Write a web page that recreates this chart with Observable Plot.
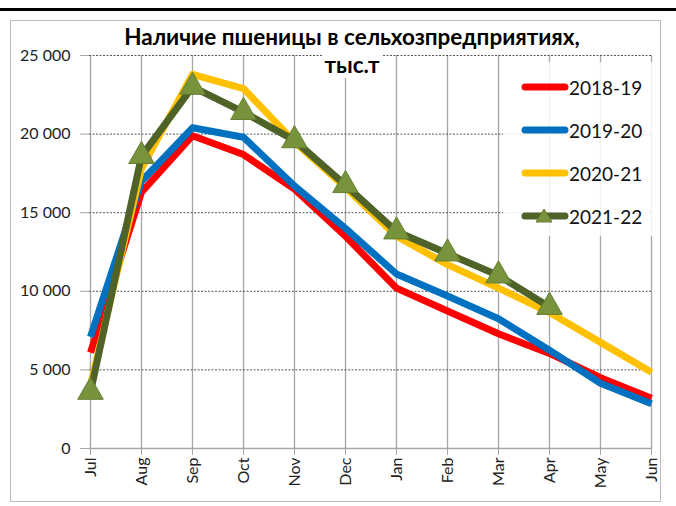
<!DOCTYPE html>
<html>
<head>
<meta charset="utf-8">
<script src="https://cdn.jsdelivr.net/npm/d3@7"></script>
<script src="https://cdn.jsdelivr.net/npm/@observablehq/plot@0.6"></script>
<style>
  html, body { margin: 0; padding: 0; background: #fff; }
  #wrap { position: relative; width: 676px; height: 506px; overflow: hidden; font-family: Lato, "Open Sans", sans-serif; }
  #topline { position: absolute; left: 0; top: 8px; width: 676px; height: 3px; background: #000; }
  #box { position: absolute; left: 10px; top: 20px; width: 651px; height: 482px; border: 1.5px solid #bdbdbd; box-sizing: border-box; }
  #chart { position: absolute; left: 0; top: 0; }
  .title { position: absolute; left: 0; width: 704px; text-align: center; font-weight: bold; font-size: 22.5px; color: #000; white-space: nowrap; }
  #legend { position: absolute; left: 503px; top: 62px; width: 152px; height: 174px; background: rgba(255,255,255,0.85); }
  .li { position: absolute; left: 18px; height: 22px; display: flex; align-items: center; font-size: 19px; color: #111; }
  .li svg { margin-right: 0px; }
</style>
</head>
<body>
<div id="wrap">
  <div id="topline"></div>
  <div id="box"></div>
  <div id="chart"></div>
  <div id="legend"></div>
  <div class="title" style="top:23px;">Наличие пшеницы в сельхозпредприятиях,</div>
  <div class="title" style="top:51px;"><span style="background:#fff;padding:0 2px;">тыс.т</span></div>
</div>
<script>
const months = ["Jul","Aug","Sep","Oct","Nov","Dec","Jan","Feb","Mar","Apr","May","Jun"];
const seriesNames = ["2018-19","2019-20","2020-21","2021-22"];
const seriesColors = ["#ff0000","#0070c0","#ffc000","#4f6228"];
const v2018 = [6100, 16300, 19900, 18700, 16500, 13500, 10200, 8750, 7300, 6050, 4500, 3200];
const v2019 = [7100, 17000, 20400, 19800, 16700, 14000, 11100, 9700, 8250, 6250, 4150, 2850];
const v2020 = [4000, 17800, 23800, 22900, 19500, 16600, 13500, 11700, 10200, 8650, 6750, 4850];
const v2021 = [3600, 18600, 23000, 21400, 19600, 16750, 13800, 12400, 11000, 9000];
const yTicks = [0, 5000, 10000, 15000, 20000, 25000];

const allValues = [v2018, v2019, v2020, v2021];
const rows = [];
allValues.forEach((vals, si) => vals.forEach((v, i) => rows.push({month: months[i], value: v, series: seriesNames[si]})));

const fmt = d => d3.format(",")(d).replace(/,/g, " ");

const chart = Plot.plot({
  width: 676,
  height: 506,
  marginLeft: 89,
  marginRight: 25,
  marginTop: 55,
  marginBottom: 58,
  style: { fontFamily: "Lato, 'Open Sans', sans-serif", background: "transparent" },
  x: { type: "point", domain: months, padding: 0, label: null },
  y: { domain: [0, 25000], label: null },
  color: { domain: seriesNames, range: seriesColors },
  marks: [
    Plot.gridX(months, { stroke: "#a6a6a6", strokeOpacity: 1, strokeWidth: 1.3 }),
    Plot.gridY(yTicks.filter(d => d > 0), { stroke: "#555", strokeOpacity: 1, strokeDasharray: "2,1.5", strokeWidth: 1 }),
    Plot.ruleY([0], { stroke: "#a6a6a6", strokeWidth: 1.3 }),
    Plot.axisY(yTicks, { tickSize: 9, tickPadding: 10, stroke: "#a6a6a6", tickFormat: fmt, fontSize: 16, fill: "#222", label: null }),
    Plot.axisX(months, { tickSize: 7, tickPadding: 2, tickRotate: -90, stroke: "#a6a6a6", fontSize: 16, fill: "#222", label: null }),
    ...seriesNames.map((name, si) => Plot.line(rows.filter(r => r.series === name), {
      x: "month", y: "value", stroke: seriesColors[si], strokeWidth: 7, strokeLinejoin: "round", strokeLinecap: "butt"
    })),
    Plot.dot(rows.filter(r => r.series === "2021-22"), {
      x: "month", y: "value", symbol: "triangle", r: 9.5, fill: "#77933c", stroke: "#667f33", strokeWidth: 1
    })
  ]
});
document.getElementById("chart").appendChild(chart);

const legend = document.getElementById("legend");
seriesNames.forEach((name, i) => {
  const d = document.createElement("div");
  d.className = "li";
  d.style.top = (14 + i * 43) + "px";
  const tri = i === 3 ? `<path d="M23,2 L31,15 L15,15 Z" fill="#77933c" stroke="#667f33" stroke-width="1"/>` : "";
  d.innerHTML = `<svg width="48" height="18"><line x1="4" y1="9" x2="44" y2="9" stroke="${seriesColors[i]}" stroke-width="7" stroke-linecap="round"/>${tri}</svg><span>${name}</span>`;
  legend.appendChild(d);
});
</script>
</body>
</html>
